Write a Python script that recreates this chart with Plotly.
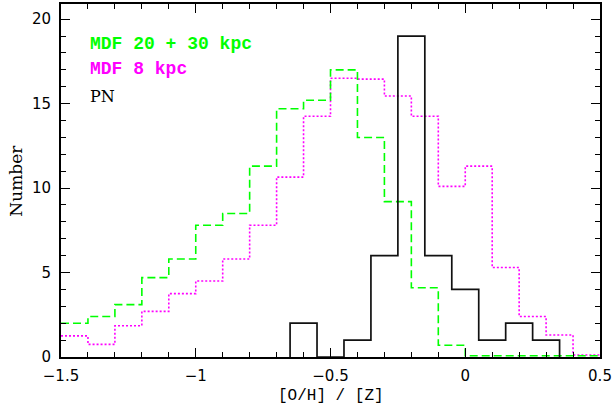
import plotly.graph_objects as go

# Bin edges (width 0.1)
mdf_edges = [-1.5, -1.4, -1.3, -1.2, -1.1, -1.0, -0.9, -0.8, -0.7, -0.6, -0.5,
             -0.4, -0.3, -0.2, -0.1, 0.0, 0.1, 0.2, 0.3, 0.4, 0.5]
# MDF 20 + 30 kpc (green dashed)
mdf_outer = [2.0, 2.4, 3.1, 4.7, 5.8, 7.8, 8.5, 11.3, 14.7, 15.2,
             17.0, 13.0, 9.2, 4.1, 0.7, 0.07, 0.07, 0.07, 0.07, 0.07]
# MDF 8 kpc (magenta dotted)
mdf_8 = [1.25, 0.75, 1.85, 2.7, 3.75, 4.5, 5.8, 7.8, 10.65, 14.25,
         16.5, 16.45, 15.45, 14.25, 10.1, 11.3, 5.3, 2.4, 1.3, 0.12]
# PN (black solid)
pn_edges = [-0.65, -0.55, -0.45, -0.35, -0.25, -0.15, -0.05, 0.05, 0.15, 0.25, 0.35]
pn_counts = [2, 0, 1, 6, 19, 6, 4, 1, 2, 1]

x_ticks = [-1.5, -1.0, -0.5, 0.0, 0.5]
x_ticklabels = ["\u22121.5", "\u22121", "\u22120.5", "0", "0.5"]
y_ticks = [0, 5, 10, 15, 20]


def step(edges, vals):
    return list(edges), list(vals) + [vals[-1]]


fig = go.Figure()

xs, ys = step(mdf_edges, mdf_8)
fig.add_trace(go.Scatter(x=xs, y=ys, mode="lines", line_shape="hv",
                         line=dict(color="#ff00ff", width=1.6, dash="2px,2px"),
                         showlegend=False))
xs, ys = step(mdf_edges, mdf_outer)
fig.add_trace(go.Scatter(x=xs, y=ys, mode="lines", line_shape="hv",
                         line=dict(color="#00ff00", width=1.6, dash="8px,4px"),
                         showlegend=False))
px_ = [pn_edges[0]] + list(pn_edges)
py_ = [0] + list(pn_counts) + [0]
fig.add_trace(go.Scatter(x=px_, y=py_, mode="lines", line_shape="hv",
                         line=dict(color="#111111", width=1.7),
                         showlegend=False))

axis_common = dict(showgrid=False, zeroline=False, showline=True, linecolor="black",
                   linewidth=2, mirror="allticks", ticks="inside", ticklen=9,
                   tickwidth=1.3, tickcolor="black",
                   tickfont=dict(family="DejaVu Sans", size=15, color="black"))

fig.update_xaxes(range=[-1.5, 0.5], tickvals=x_ticks, ticktext=x_ticklabels,
                 minor=dict(dtick=0.1, ticks="inside", ticklen=5, tickwidth=1.2,
                            tickcolor="black", showgrid=False),
                 ticklabelstandoff=4,
                 **axis_common)
fig.update_yaxes(range=[0, 20.9], tickvals=y_ticks,
                 minor=dict(dtick=1, ticks="inside", ticklen=5, tickwidth=1.2,
                            tickcolor="black", showgrid=False),
                 ticklabelstandoff=5,
                 **axis_common)

annots = [
    dict(text="MDF 20 + 30 kpc", x=0.05, y=0.888, color="#00ff00",
         family="Liberation Mono", size=18, bold=True),
    dict(text="MDF 8 kpc", x=0.05, y=0.815, color="#ff00ff",
         family="Liberation Mono", size=18, bold=True),
    dict(text="PN", x=0.05, y=0.738, color="black",
         family="DejaVu Serif", size=16, bold=False),
]
for a in annots:
    txt = "<b>" + a["text"] + "</b>" if a["bold"] else a["text"]
    fig.add_annotation(text=txt, x=a["x"], y=a["y"], xref="paper", yref="paper",
                       xanchor="left", yanchor="middle", showarrow=False,
                       font=dict(family=a["family"], size=a["size"], color=a["color"]))

# axis titles
fig.add_annotation(text="[O/H] / [Z]", x=0.5, y=-0.11, xref="paper", yref="paper",
                   xanchor="center", yanchor="middle", showarrow=False,
                   font=dict(family="Liberation Mono", size=16, color="black"))
fig.add_annotation(text="Number", x=-0.085, y=0.5, xref="paper", yref="paper",
                   xanchor="center", yanchor="middle", showarrow=False, textangle=-90,
                   font=dict(family="DejaVu Serif", size=17, color="black"))

fig.update_layout(width=614, height=410, margin=dict(l=61, r=14, t=2, b=53),
                  paper_bgcolor="white", plot_bgcolor="white")

fig.write_html("out.html")
